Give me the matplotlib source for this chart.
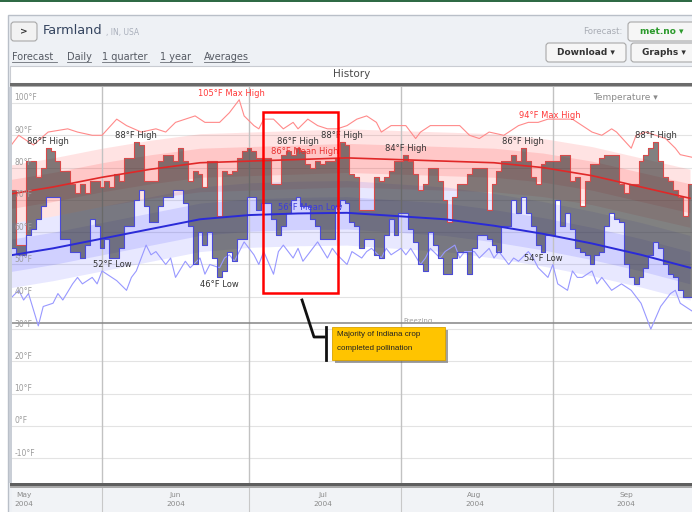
import numpy as np
import matplotlib.pyplot as plt
from matplotlib.patches import Rectangle, FancyBboxPatch
from matplotlib.lines import Line2D
from matplotlib.transforms import Affine2D

plt.rcParams['font.family'] = ['DejaVu Sans']

# day numbers counted from 1 Jun 2004 (0 = Jun 1)
days = np.arange(-18, 121)
highs = [73, 56, 56, 82, 82, 77, 80, 86, 85, 82,
         79, 79, 75, 72, 75, 72, 76, 76, 74, 76,
         74, 78, 76, 83, 83, 88, 87, 76, 76, 76,
         82, 84, 84, 82, 86, 82, 76, 79, 78, 74,
         82, 82, 65, 79, 78, 79, 83, 85, 86, 85,
         83, 83, 83, 75, 75, 84, 85, 84, 86, 85,
         81, 80, 82, 81, 82, 82, 83, 88, 87, 78,
         77, 67, 67, 67, 77, 76, 77, 79, 82, 82,
         84, 82, 78, 73, 75, 80, 80, 76, 70, 63,
         71, 75, 75, 78, 80, 80, 80, 67, 75, 79,
         82, 82, 84, 82, 86, 82, 77, 75, 81, 82,
         82, 82, 84, 84, 76, 77, 68, 76, 81, 81,
         83, 84, 84, 84, 75, 72, 75, 75, 82, 84,
         86, 88, 82, 77, 76, 73, 71, 65, 75]
lows = [55, 53, 53, 59, 61, 64, 68, 71, 71, 71,
        58, 58, 54, 54, 52, 56, 64, 62, 55, 58,
        52, 52, 55, 62, 62, 70, 73, 68, 63, 63,
        68, 71, 71, 73, 73, 69, 62, 50, 60, 56,
        60, 52, 46, 48, 54, 51, 58, 58, 71, 71,
        67, 69, 69, 64, 59, 62, 66, 70, 71, 68,
        68, 64, 62, 58, 58, 58, 68, 70, 69, 63,
        62, 55, 58, 58, 53, 52, 59, 64, 59, 66,
        66, 61, 57, 50, 48, 60, 56, 52, 47, 47,
        52, 54, 54, 47, 55, 59, 59, 58, 56, 54,
        62, 62, 70, 66, 71, 66, 62, 56, 54, 59,
        59, 70, 62, 66, 61, 55, 54, 53, 50, 53,
        54, 62, 66, 64, 63, 50, 46, 44, 46, 49,
        53, 57, 55, 50, 47, 46, 42, 40, 40]

# normals every 10 days
norm_days = [-20, -10, 0, 10, 20, 30, 40, 50, 60, 70, 80, 90, 100, 110, 120]
mean_high = [71.5, 74, 77, 79.5, 81.5, 82, 82.5, 83, 82.5, 82, 81.5, 80, 77.5, 74, 70.5]
hi_p90 = [80.5, 83, 86, 88.5, 90.5, 91, 91.5, 92, 91.5, 91, 90.5, 89, 86.5, 83, 79.5]
hi_p75 = [76, 78.5, 81.5, 84, 86, 86.5, 87, 87.5, 87, 86.5, 86, 84.5, 82, 78.5, 75]
hi_p25 = [67, 69.5, 72.5, 75, 77, 77.5, 78, 78.5, 78, 77.5, 77, 75.5, 73, 69.5, 66]
hi_p10 = [62.5, 65, 68, 70.5, 72.5, 73, 73.5, 74, 73.5, 73, 72.5, 71, 68.5, 65, 61.5]
mean_low = [52.5, 55, 58, 61, 64, 65.3, 65.8, 66, 65, 64, 62, 59.5, 56.5, 53, 49]
lo_p90 = [62.5, 65, 68, 71, 74, 75.3, 75.8, 76, 75, 74, 72, 69.5, 66.5, 63, 59]
lo_p75 = [57.5, 60, 63, 66, 69, 70.3, 70.8, 71, 70, 69, 67, 64.5, 61.5, 58, 54]
lo_p25 = [47.5, 50, 53, 56, 59, 60.3, 60.8, 61, 60, 59, 57, 54.5, 51.5, 48, 44]
lo_p10 = [42.5, 45, 48, 51, 54, 55.3, 55.8, 56, 55, 54, 52, 49.5, 46.5, 43, 39]

rec_high_days = [-19, -17, -14, -11, -7, -5, -2, 0, 3, 5,
                 8, 11, 13, 15, 17, 19, 21, 24, 26, 28,
                 29, 31, 32, 33, 35, 37, 39, 40, 42, 44,
                 46, 48, 50, 52, 54, 56, 57, 59, 62, 64,
                 65, 67, 70, 73, 75, 77, 79, 82, 85, 87,
                 89, 91, 93, 96, 98, 100, 102, 104, 105, 108,
                 109, 111, 113, 115, 117, 118, 121]
rec_high = [86, 90, 87, 91, 92, 91, 90, 90, 95, 93,
            91, 92, 91, 94, 95, 96, 94, 94, 97, 101,
            96, 93, 92, 95, 95, 92, 94, 92, 95, 93,
            92, 92, 93, 95, 96, 94, 91, 93, 93, 89,
            91, 93, 93, 93, 90, 89, 91, 90, 93, 94,
            94, 95, 95, 95, 93, 91, 90, 92, 91, 86,
            90, 91, 90, 89, 86, 84, 83]
rec_low_days = [-19, -17, -16, -15, -13, -12, -10, -9, -8, -6,
                -5, -4, -2, -1, 0, 2, 3, 5, 6, 7,
                9, 10, 11, 13, 14, 15, 17, 18, 20, 21,
                22, 24, 25, 26, 27, 28, 29, 31, 32, 33,
                35, 36, 37, 39, 40, 41, 43, 44, 46, 47,
                48, 50, 51, 53, 54, 55, 57, 58, 59, 61,
                62, 63, 65, 66, 67, 69, 70, 72, 73, 74,
                76, 77, 79, 80, 81, 83, 84, 85, 87, 88,
                89, 91, 92, 93, 95, 96, 97, 98, 100, 101,
                102, 104, 106, 108, 110, 112, 114, 116, 117, 118,
                121]
rec_low = [39, 42, 39, 41, 31, 37, 38, 41, 39, 44,
           46, 44, 46, 44, 48, 46, 45, 42, 46, 48,
           56, 53, 54, 50, 52, 46, 51, 49, 52, 47,
           50, 49, 52, 53, 51, 54, 57, 53, 50, 54,
           47, 54, 56, 52, 55, 51, 55, 57, 52, 55,
           53, 50, 54, 52, 54, 55, 52, 55, 53, 55,
           53, 55, 50, 52, 55, 52, 54, 56, 52, 54,
           54, 52, 55, 52, 54, 50, 52, 51, 54, 52,
           49, 46, 50, 44, 42, 48, 46, 46, 48, 44,
           46, 42, 44, 42, 38, 30, 37, 41, 42, 38,
           35]

high_label_days = [-11, 7, 40, 49, 62, 86, 113]
low_label_days = [2, 24, 90]
months = ['May', 'Jun', 'Jul', 'Aug', 'Sep']
month_starts = [-31, 0, 30, 61, 92]
temp_ticks = list(range(-10, 101, 10))
freezing = 32

W, H = 692, 512
fig = plt.figure(figsize=(W / 100, H / 100), dpi=100)
# pixel coordinates, y going down
pix = Affine2D().scale(1 / W, -1 / H).translate(0, 1) + fig.transFigure


def rect(x0, y0, x1, y1, z=-5, **kw):
    fig.patches.append(Rectangle((x0, y0), x1 - x0, y1 - y0, transform=pix, zorder=z, **kw))


def button(x0, y0, x1, y1, label, color, face='#f6f6f6'):
    fig.patches.append(FancyBboxPatch((x0, y0), x1 - x0, y1 - y0,
                                      boxstyle='round,pad=0,rounding_size=3',
                                      transform=pix, facecolor=face, edgecolor='#a8a8a8',
                                      lw=0.8, zorder=-4))
    fig.text((x0 + x1) / 2, (y0 + y1) / 2, label, transform=pix, ha='center', va='center',
             fontsize=6.5, fontweight='bold', color=color)


def pline(xs, ys, **kw):
    fig.lines.append(Line2D(xs, ys, transform=pix, **kw))


# page chrome
rect(0, 0, W, 2, facecolor='#2f6a45', lw=0)
rect(8, 15, W + 2, H + 2, facecolor='#eef1f5', edgecolor='#b9bfc8', lw=1)
button(11, 22, 37, 41, '>', '#333333', face='#f2f2f2')
fig.text(43, 31, 'Farmland', transform=pix, fontsize=9.3, color='#34445f', va='center')
fig.text(106, 32, ', IN, USA', transform=pix, fontsize=5.5, color='#a9afbb', va='center')
fig.text(622, 31, 'Forecast:', transform=pix, fontsize=6.2, color='#a8acb4', va='center', ha='right')
button(628, 22, W + 4, 41, 'met.no ▾', '#2c9a2c')
button(546, 43, 626, 62, 'Download ▾', '#333333')
button(631, 43, W + 4, 62, 'Graphs ▾', '#333333')

links = [('Forecast', 12, 57), ('Daily', 67, 91), ('1 quarter', 102, 149),
         ('1 year', 160, 192), ('Averages', 204, 249)]
for name, x0, x1 in links:
    fig.text(x0, 57, name, transform=pix, fontsize=7, color='#555a63', va='center')
    pline([x0, x1], [62, 62], color='#6a6e76', lw=0.6)

rect(10, 66, W + 2, 83, facecolor='white', edgecolor='#c9ccd2', lw=0.8)
fig.text(352, 74, 'History', transform=pix, fontsize=7.5, color='#4a4a4a', ha='center', va='center')
rect(10, 83, W + 2, 86, z=2, facecolor='#6b6b6b', lw=0)
rect(10, 86, W + 2, 87, z=2, facecolor='#b0b0b0', lw=0)

# main chart
ax = fig.add_axes([12 / W, 1 - 483 / H, (W - 12) / W, 396 / H])
ax.set_xlim(-18.37, 120.4)
ax.set_ylim(-17.65, 104.95)
ax.set_facecolor('white')
for s in ax.spines.values():
    s.set_visible(False)
ax.set_xticks([])
ax.set_yticks([])

for t in temp_ticks:
    ax.axhline(t, color='#e3e3e3', lw=0.8, zorder=0)
    ax.text(-17.9, t + 1.55, f'{t}°F', fontsize=5.5, color='#9c9c9c', va='center', zorder=6)
for m in month_starts[1:]:
    ax.axvline(m, color='#c2c2c2', lw=1.0, zorder=1.5)
ax.axhline(freezing, color='#858585', lw=1.1, zorder=1.6)
ax.text(64.5, freezing + 0.6, 'Freezing', fontsize=5, color='#a0a0a0', ha='center', va='center', zorder=6)

ax.fill_between(norm_days, hi_p10, hi_p90, color='#ff2020', alpha=0.12, lw=0, zorder=1)
ax.fill_between(norm_days, hi_p25, hi_p75, color='#ff2020', alpha=0.14, lw=0, zorder=1)
ax.fill_between(norm_days, lo_p10, lo_p90, color='#3030ff', alpha=0.11, lw=0, zorder=1)
ax.fill_between(norm_days, lo_p25, lo_p75, color='#3030ff', alpha=0.13, lw=0, zorder=1)

ax.plot(rec_high_days, rec_high, color='#ff8a8a', lw=0.8, zorder=2.5)
ax.plot(rec_low_days, rec_low, color='#9898ff', lw=0.8, zorder=2.5)

xe = np.append(days - 0.5, days[-1] + 0.5)
hi_e = np.append(highs, highs[-1])
lo_e = np.append(lows, lows[-1])
ax.fill_between(xe, lo_e, hi_e, step='post', color='#2e2e2e', alpha=0.6, lw=0, zorder=2)
ax.step(xe, hi_e, where='post', color='#d84a4a', lw=0.8, zorder=3)
ax.step(xe, lo_e, where='post', color='#4a4ad8', lw=0.8, zorder=3)

ax.plot(norm_days, mean_high, color='#e02828', lw=1.2, zorder=4)
ax.plot(norm_days, mean_low, color='#2a2ad8', lw=1.4, zorder=4)

for d in high_label_days:
    v = highs[d - days[0]]
    ax.text(d, v + 0.6, f'{v}°F High', ha='center', va='bottom', fontsize=6, color='#333333', zorder=6)
for d in low_label_days:
    v = lows[d - days[0]]
    ax.text(d, v - 0.7, f'{v}°F Low', ha='center', va='top', fontsize=6, color='#333333', zorder=6)

ax.text(26.5, 102.8, '105°F Max High', ha='center', va='center', fontsize=6, color='#ff3a3a', zorder=6)
ax.text(91.4, 96, '94°F Max High', ha='center', va='center', fontsize=6, color='#ff3a3a', zorder=6)
ax.text(41.4, 85.1, '86°F Mean High', ha='center', va='center', fontsize=6, color='#e83030', zorder=6)
ax.text(42.4, 67.5, '56°F Mean Low', ha='center', va='center', fontsize=6, color='#3a3ae0', zorder=6)
ax.add_patch(Rectangle((32.9, 41.2), 15.3, 56.0, fill=False, edgecolor='#ff0000', lw=1.8, zorder=7))

fig.text(625, 97, 'Temperature ▾', transform=pix, fontsize=6.5, color='#8a8a8a', ha='center', va='center')

# month band under the chart
axb = fig.add_axes([12 / W, 0, (W - 12) / W, 25 / H])
axb.set_xlim(ax.get_xlim())
axb.set_ylim(0, 1)
axb.set_facecolor('#f1f3f6')
for s in axb.spines.values():
    s.set_visible(False)
axb.set_xticks([])
axb.set_yticks([])
for name, m in zip(months, month_starts):
    if m > -18:
        axb.axvline(m, color='#c8c8c8', lw=0.8)
    axb.text(m + 15, 0.5, f'{name}\n2004', ha='center', va='center', fontsize=5.3,
             color='#8a8a8a', linespacing=1.5)
rect(10, 483, W + 2, 486, z=2, facecolor='#5e5e5e', lw=0)
rect(10, 486, W + 2, 488, z=2, facecolor='#a8a8a8', lw=0)
rect(9, 87, 12, 483, z=2, facecolor='#c9ced6', lw=0)

# callout
pline([302, 314, 324], [300, 337, 337], color='#111111', lw=2.0, zorder=8)
pline([326, 326], [327, 360], color='#111111', lw=2.0, zorder=8)
rect(335, 330, 448, 363, z=8, facecolor='#555555', alpha=0.55, lw=0)
rect(332, 327, 445, 360, z=9, facecolor='#ffc400', edgecolor='#d8a200', lw=0.6)
fig.text(337, 334, 'Majority of Indiana crop', transform=pix, fontsize=5.8, color='#222222',
         va='center', family=['Liberation Sans', 'DejaVu Sans'], zorder=10)
fig.text(337, 348, 'completed pollination', transform=pix, fontsize=5.8, color='#222222',
         va='center', family=['Liberation Sans', 'DejaVu Sans'], zorder=10)

fig.savefig('out.png', dpi=100)
